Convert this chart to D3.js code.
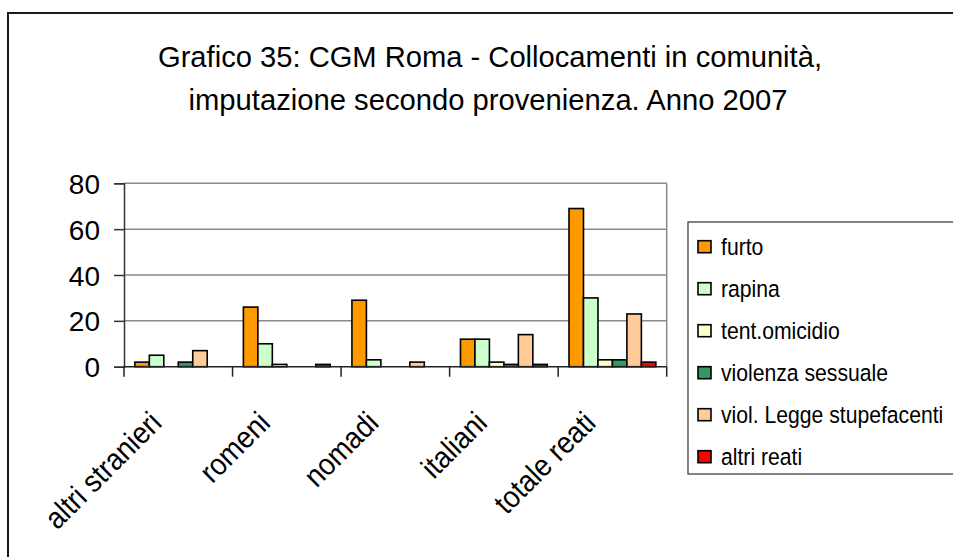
<!DOCTYPE html>
<html>
<head>
<meta charset="utf-8">
<script src="https://cdn.jsdelivr.net/npm/d3@7"></script>
<style>
  html, body { margin: 0; padding: 0; background: #fff; }
  svg { display: block; }
  text { font-family: "Liberation Sans", Arial, sans-serif; fill: #000; }
</style>
</head>
<body>
<svg id="chart" width="953" height="557"></svg>
<script>
// Provenienza (categorie sull'asse X)
const categories = ["altri stranieri", "romeni", "nomadi", "italiani", "totale reati"];

// Tipologie di reato (serie)
const seriesNames = ["furto", "rapina", "tent.omicidio", "violenza sessuale", "viol. Legge stupefacenti", "altri reati"];
const seriesColors = ["#FF9900", "#CCFFCC", "#FFFFCC", "#339966", "#FFCC99", "#FF0000"];

// Valori per serie, nell'ordine delle categorie
const furto        = [2, 26, 29, 12, 69];
const rapina       = [5, 10, 3, 12, 30];
const tentOmicidio = [0, 1, 0, 2, 3];
const violenzaSess = [2, 0, 0, 1, 3];
const violStupef   = [7, 0, 2, 14, 23];
const altriReati   = [0, 1, 0, 1, 2];

const yTicks = [0, 20, 40, 60, 80];
const titleLines = ["Grafico 35: CGM Roma - Collocamenti in comunità,", "imputazione secondo provenienza. Anno 2007"];

const seriesValues = [furto, rapina, tentOmicidio, violenzaSess, violStupef, altriReati];

const svg = d3.select("#chart");

// Bordo esterno del grafico
svg.append("rect")
  .attr("x", 8).attr("y", 13)
  .attr("width", 1000).attr("height", 600)
  .attr("fill", "#fff")
  .attr("stroke", "#1a1a1a").attr("stroke-width", 2);

// Titolo (carattere stretto e alto)
const titleG = svg.append("g");
titleG.append("text")
  .attr("x", 490).attr("y", 67)
  .attr("text-anchor", "middle")
  .attr("font-size", 29)
  .attr("textLength", 664).attr("lengthAdjust", "spacingAndGlyphs")
  .text(titleLines[0]);
titleG.append("text")
  .attr("x", 488).attr("y", 110)
  .attr("text-anchor", "middle")
  .attr("font-size", 29)
  .attr("textLength", 599).attr("lengthAdjust", "spacingAndGlyphs")
  .text(titleLines[1]);

// Area del grafico
const plot = { left: 124, right: 666.7, top: 183.3, bottom: 366.7 };

const x0 = d3.scaleBand().domain(categories).range([plot.left, plot.right]).padding(0);
const x1 = d3.scaleBand().domain(seriesNames).range([0, x0.bandwidth()]).paddingInner(0).paddingOuter(0.75);
const y = d3.scaleLinear().domain([0, 80]).range([plot.bottom, plot.top]);

// Griglia orizzontale
svg.append("g")
  .selectAll("line")
  .data(yTicks.filter(d => d > 0))
  .join("line")
  .attr("x1", plot.left).attr("x2", plot.right)
  .attr("y1", d => y(d)).attr("y2", d => y(d))
  .attr("stroke", "#8a8a8a").attr("stroke-width", 1.5);

// Bordo destro dell'area
svg.append("line")
  .attr("x1", plot.right).attr("x2", plot.right)
  .attr("y1", plot.top).attr("y2", plot.bottom)
  .attr("stroke", "#8a8a8a").attr("stroke-width", 1.5);

// Barre
const groups = svg.append("g")
  .selectAll("g")
  .data(categories)
  .join("g")
  .attr("transform", d => `translate(${x0(d)},0)`);

groups.selectAll("rect")
  .data((c, i) => seriesNames.map((s, j) => ({ s, j, v: seriesValues[j][i] })).filter(d => d.v > 0))
  .join("rect")
  .attr("x", d => x1(d.s))
  .attr("y", d => y(d.v))
  .attr("width", x1.bandwidth())
  .attr("height", d => y(0) - y(d.v))
  .attr("fill", d => seriesColors[d.j])
  .attr("stroke", "#000").attr("stroke-width", 1.6);

// Asse Y
const yAxis = d3.axisLeft(y).tickValues(yTicks).tickSize(10).tickPadding(14).tickFormat(d3.format("d"));
const yAxisG = svg.append("g").attr("transform", `translate(${plot.left},0)`).call(yAxis);
yAxisG.select(".domain").attr("stroke", "#333").attr("stroke-width", 1.5);
yAxisG.selectAll(".tick line").attr("stroke", "#333").attr("stroke-width", 1.5);
yAxisG.selectAll(".tick text")
  .attr("font-size", 28)
  .attr("font-family", "\"Liberation Sans\", Arial, sans-serif")
  .attr("dy", "0.36em")
  .attr("fill", "#000");

// Asse X: linea dello zero e tacche ai confini delle categorie
svg.append("line")
  .attr("x1", plot.left).attr("x2", plot.right)
  .attr("y1", y(0)).attr("y2", y(0))
  .attr("stroke", "#222").attr("stroke-width", 1.6);

const boundaries = categories.map(c => x0(c)).concat([plot.right]);
svg.append("g")
  .selectAll("line")
  .data(boundaries)
  .join("line")
  .attr("x1", d => d).attr("x2", d => d)
  .attr("y1", y(0)).attr("y2", y(0) + 10)
  .attr("stroke", "#222").attr("stroke-width", 1.5);

// Etichette delle categorie, ruotate di 45°
svg.append("g")
  .selectAll("text")
  .data(categories)
  .join("text")
  .attr("text-anchor", "end")
  .attr("font-size", 29)
  .attr("transform", d => `translate(${x0(d) + x0.bandwidth() / 2 - 15},${y(0) + 58}) rotate(-45) scale(0.95,1.05)`)
  .text(d => d);

// Legenda
const legend = svg.append("g");
legend.append("rect")
  .attr("x", 688).attr("y", 222)
  .attr("width", 300).attr("height", 252)
  .attr("fill", "#fff")
  .attr("stroke", "#333").attr("stroke-width", 1.2);

const ly = d3.scalePoint().domain(seriesNames).range([246.7, 456.7]);
const items = legend.selectAll("g.item")
  .data(seriesNames)
  .join("g")
  .attr("class", "item")
  .attr("transform", d => `translate(0,${ly(d)})`);
items.append("rect")
  .attr("x", 698).attr("y", -6)
  .attr("width", 13).attr("height", 12)
  .attr("fill", (d, i) => seriesColors[i])
  .attr("stroke", "#000").attr("stroke-width", 1.6);
items.append("text")
  .attr("transform", "translate(721,0) scale(0.92,1.04)")
  .attr("dy", "0.36em")
  .attr("font-size", 23)
  .text(d => d);
</script>
</body>
</html>
